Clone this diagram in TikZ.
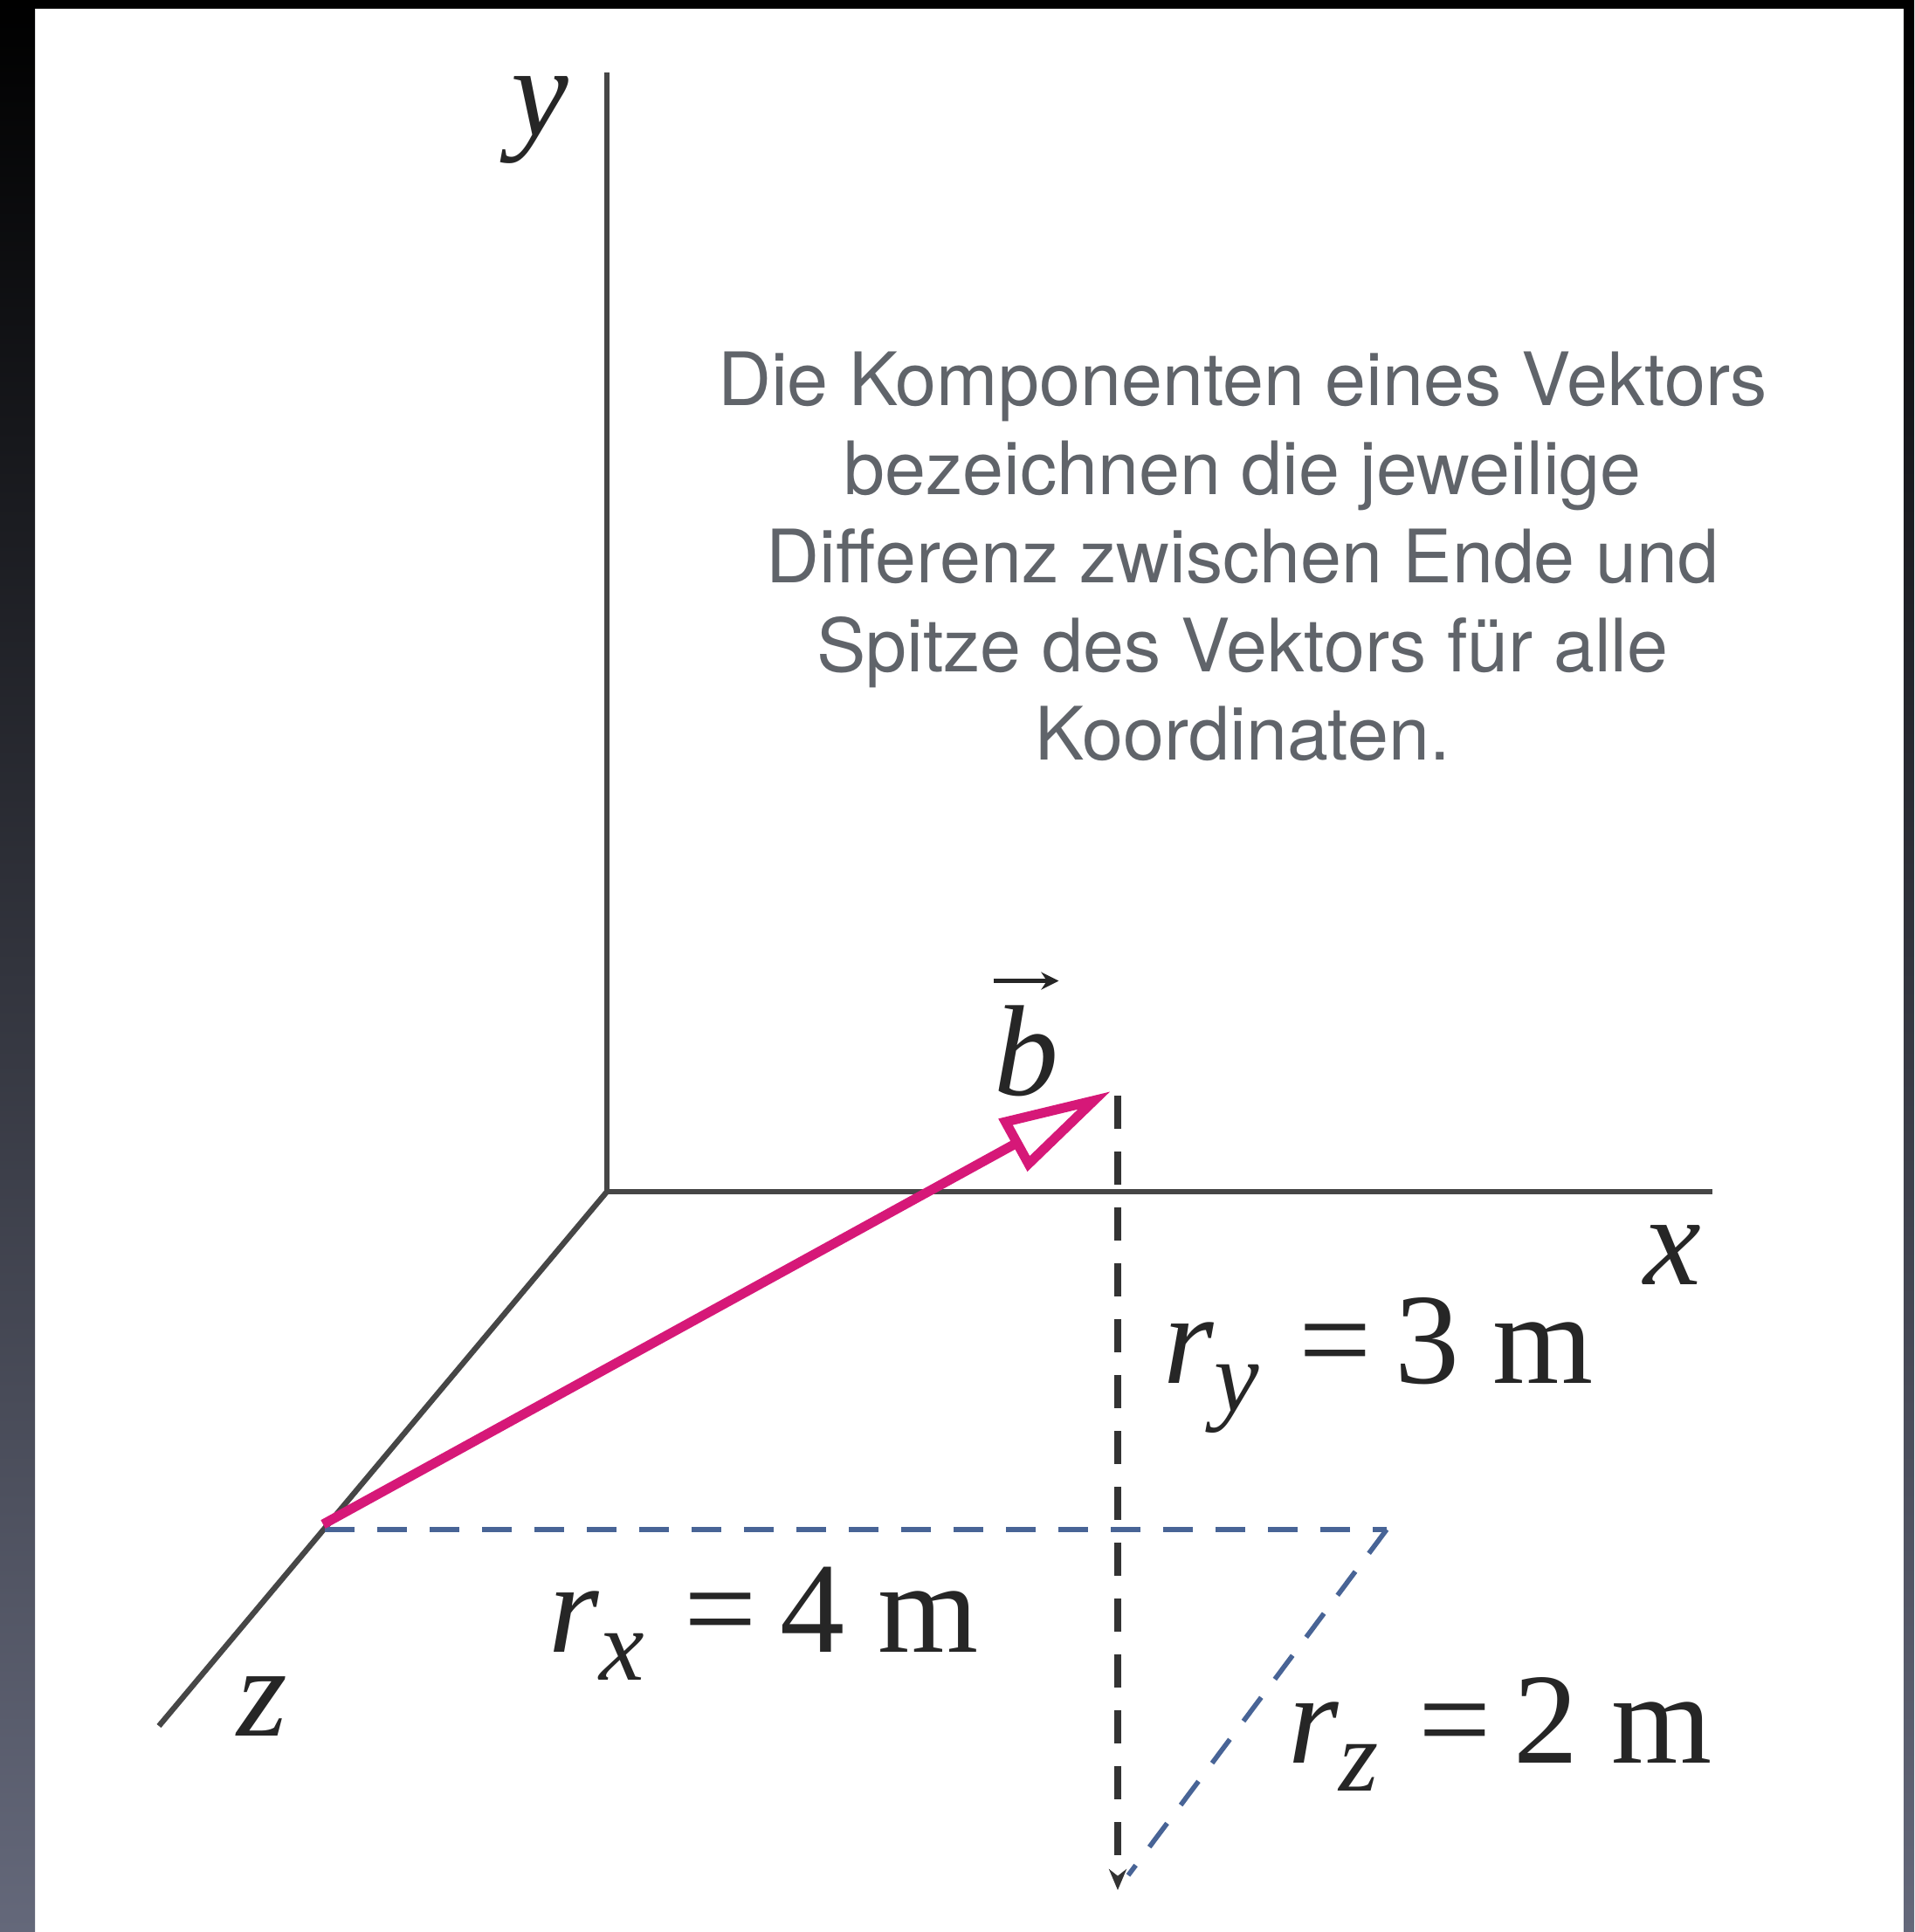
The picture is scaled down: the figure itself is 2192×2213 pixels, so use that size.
\documentclass[tikz,border=0pt]{standalone}
\usepackage{fontspec}
\setmainfont{Liberation Serif}
\newfontfamily\helv{TeX Gyre Heros}
\usetikzlibrary{arrows.meta}
\definecolor{axisgray}{RGB}{70,70,70}
\definecolor{vecmag}{RGB}{214,24,120}
\definecolor{dashblue}{RGB}{72,100,150}
\definecolor{txtgray}{RGB}{96,100,106}
\definecolor{bandlow}{RGB}{100,104,122}
\newcommand\complab[2]{\textit{r}\raisebox{-16pt}{\fontsize{58pt}{58pt}\selectfont\textit{#1}}\hspace{23pt}=\hspace{13pt}#2\hspace{19pt}m}
\begin{document}
\begin{tikzpicture}[x=0.5pt,y=-0.5pt,
  axisline/.style={draw=axisgray,line width=3.2pt},
  vecline/.style={draw=vecmag,line width=5.5pt,-{Triangle[open,length=64pt,width=33pt]}},
  blackdash/.style={draw=black!80,line width=3.6pt,dash pattern=on 19pt off 13pt},
  bluedash/.style={draw=dashblue,line width=2.8pt,dash pattern=on 17pt off 13pt},
  lbl/.style={inner sep=0pt,font=\fontsize{74pt}{88pt}\selectfont,text=black!85},
  info/.style={inner sep=0pt,align=center,text=txtgray,font=\helv\fontsize{42.2pt}{50.7pt}\selectfont}]
\useasboundingbox (0,0) rectangle (2192,2213);
% frame
\fill[black] (0,0) rectangle (2192,10);
\shade[top color=black,bottom color=bandlow] (0,0) rectangle (40,2213);
\shade[top color=black,bottom color=bandlow] (2180,0) rectangle (2192,2213);
% coordinates
\coordinate (O) at (695,1365);
\coordinate (Ytop) at (695,83);
\coordinate (Xend) at (1961,1365);
\coordinate (Zend) at (182,1977);
\coordinate (S) at (370,1746);
\coordinate (T) at (1272,1250);
\coordinate (Vtop) at (1280,1255);
\coordinate (Vbot) at (1280,2165);
\coordinate (Hs) at (372,1752);
\coordinate (He) at (1588,1752);
\coordinate (De) at (1292,2148);
% axes
\draw[axisline] (Ytop) -- (O) -- (Xend);
\draw[axisline] (O) -- (Zend);
% dashed components
\draw[bluedash] (Hs) -- (He);
\draw[bluedash] (He) -- (De);
\draw[blackdash,-{Stealth[length=12pt,width=10pt]}] (Vtop) -- (Vbot);
% vector
\draw[vecline] (S) -- (T);
% labels
\node[lbl] (ylab) at (618,137) {\textit{y}};
\node[lbl] (xlab) at (1915,1438) {\textit{x}};
\node[lbl] (zlab) at (300,1955) {\textit{z}};
\node[lbl] (blab) at (1175,1204) {\textit{b}};
\draw[black!85,line width=2.2pt,-{Stealth[length=10pt,width=10pt]}] ([yshift=14pt]blab.north west) -- ([yshift=14pt]blab.north east);
\node[lbl,anchor=base west] (ry) at (1332,1584) {\complab{y}{3}};
\node[lbl,anchor=base west] (rx) at (628,1892) {\complab{x}{4}};
\node[lbl,anchor=base west] (rz) at (1475,2019) {\complab{z}{2}};
% text
\node[info,anchor=north] (txt) at (1423,403) {Die Komponenten eines Vektors\\bezeichnen die jeweilige\\Differenz zwischen Ende und\\Spitze des Vektors für alle\\Koordinaten.};
\end{tikzpicture}
\end{document}
